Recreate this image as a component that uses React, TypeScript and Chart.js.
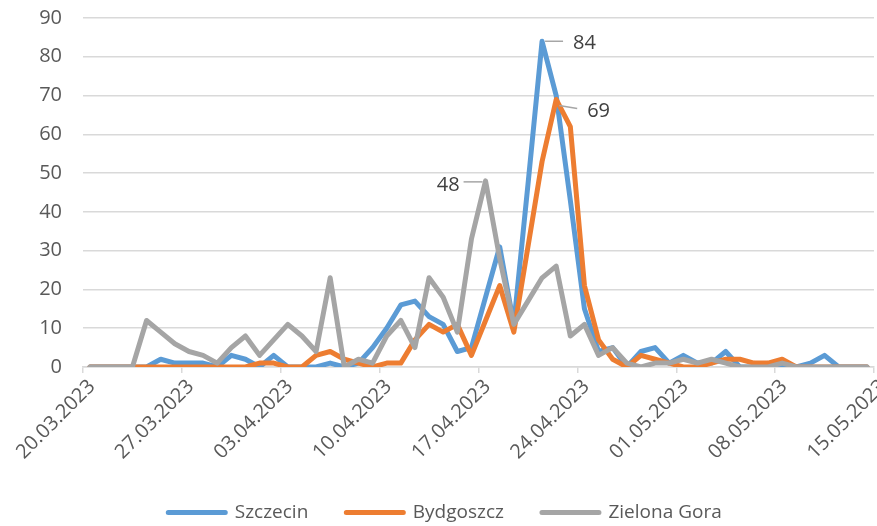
import React, { useEffect, useRef } from "react";
import { Chart, registerables } from "chart.js";

Chart.register(...registerables);

// Tick labels every 7 days (axis runs 20.03.2023 – 15.05.2023, one slot per day)
const tickLabels = [
  "20.03.2023",
  "27.03.2023",
  "03.04.2023",
  "10.04.2023",
  "17.04.2023",
  "24.04.2023",
  "01.05.2023",
  "08.05.2023",
  "15.05.2023",
];
const daysPerTick = 7;

const seriesNames = ["Szczecin", "Bydgoszcz", "Zielona Gora"];

// Daily values, 20.03.2023 .. 14.05.2023
const szczecin = [
  0, 0, 0, 0, 0, 2, 1, 1, 1, 0, 3, 2, 0, 3, 0, 0, 0, 1, 0, 1,
  5, 10, 16, 17, 13, 11, 4, 5, 18, 31, 11, 47, 84, 70, 43, 15, 4, 5, 0, 4,
  5, 1, 3, 1, 1, 4, 0, 0, 0, 0, 0, 1, 3, 0, 0, 0,
];
const bydgoszcz = [
  0, 0, 0, 0, 0, 0, 0, 0, 0, 0, 0, 0, 1, 1, 0, 0, 3, 4, 2, 1,
  0, 1, 1, 7, 11, 9, 11, 3, 12, 21, 9, 31, 53, 69, 62, 21, 7, 2, 0, 3,
  2, 1, 0, 0, 1, 2, 2, 1, 1, 2, 0, 0, 0, 0, 0, 0,
];
const zielonaGora = [
  0, 0, 0, 0, 12, 9, 6, 4, 3, 1, 5, 8, 3, 7, 11, 8, 4, 23, 0, 2,
  1, 8, 12, 5, 23, 18, 9, 33, 48, 28, 11, 17, 23, 26, 8, 11, 3, 5, 1, 0,
  1, 1, 2, 1, 2, 1, 0, 0, 0, 1, 0, 0, 0, 0, 0, 0,
];

const seriesValues = [szczecin, bydgoszcz, zielonaGora];
const colors = ["#5B9BD5", "#ED7D31", "#A5A5A5"];
// drawing order: later series on top (like Excel)
const drawOrder = [2, 1, 0];

// callout placement for each series' peak label (style only)
const callouts = [
  { dataset: 0, lx0: 3, ly0: 0, lx1: 21, ly1: 0, tx: 31, ty: 2, align: "left" },
  { dataset: 1, lx0: 3, ly0: 6, lx1: 21, ly1: 9, tx: 31, ty: 12, align: "left" },
  { dataset: 2, lx0: -3, ly0: 1, lx1: -22, ly1: 1, tx: -26, ty: 4, align: "right" },
];

const FONT = "'Open Sans', 'Noto Sans', sans-serif";
const AXIS_COLOR = "#595959";
const GRID_COLOR = "#D9D9D9";

const calloutPlugin = {
  id: "peakCallouts",
  afterDatasetsDraw(chart: any) {
    const ctx = chart.ctx;
    callouts.forEach((c) => {
      const values = seriesValues[c.dataset];
      const max = Math.max(...values);
      const idx = values.indexOf(max);
      const meta = chart.getDatasetMeta(c.dataset);
      const pt = meta.data[idx];
      if (!pt) return;
      const x = pt.x;
      const y = pt.y;
      ctx.save();
      ctx.strokeStyle = "#A6A6A6";
      ctx.lineWidth = 1.5;
      ctx.beginPath();
      ctx.moveTo(x + c.lx0, y + c.ly0);
      ctx.lineTo(x + c.lx1, y + c.ly1);
      ctx.stroke();
      ctx.fillStyle = "#404040";
      ctx.font = `20px ${FONT}`;
      ctx.textAlign = c.align as CanvasTextAlign;
      ctx.textBaseline = "middle";
      ctx.fillText(String(max), x + c.tx, y + c.ty);
      ctx.restore();
    });
  },
};

export default function App() {
  const canvasRef = useRef<HTMLCanvasElement | null>(null);

  useEffect(() => {
    const canvas = canvasRef.current;
    if (!canvas) return;
    Chart.defaults.font.family = FONT;

    const datasets = seriesValues.map((vals, s) => ({
      label: seriesNames[s],
      data: vals.map((v, i) => ({ x: i + 0.5, y: v })),
      borderColor: colors[s],
      backgroundColor: colors[s],
      borderWidth: 5,
      borderJoinStyle: "round" as const,
      borderCapStyle: "round" as const,
      pointRadius: 0,
      pointHoverRadius: 0,
      tension: 0,
      fill: false,
      order: drawOrder[s],
    }));

    const totalDays = (tickLabels.length - 1) * daysPerTick;

    const chart = new Chart(canvas, {
      type: "line",
      data: { datasets },
      options: {
        responsive: false,
        animation: false,
        layout: { padding: { left: 16, right: 3, top: 18, bottom: -6 } },
        plugins: {
          tooltip: { enabled: false },
          legend: {
            position: "bottom",
            labels: {
              boxWidth: 57,
              boxHeight: 0,
              padding: 38,
              color: AXIS_COLOR,
              font: { size: 19, family: FONT },
              sort: (a: any, b: any) => a.datasetIndex - b.datasetIndex,
            },
          },
        },
        scales: {
          x: {
            type: "linear",
            min: 0,
            max: totalDays,
            afterBuildTicks: (scale: any) => {
              scale.ticks = tickLabels.map((_, i) => ({ value: i * daysPerTick }));
            },
            afterFit: (scale: any) => {
              scale.height = 98;
              scale.paddingLeft = 0;
              scale.paddingRight = 0;
            },
            ticks: {
              autoSkip: false,
              maxRotation: 45,
              minRotation: 45,
              padding: 2,
              labelOffset: 9,
              color: AXIS_COLOR,
              font: { size: 20, family: FONT },
              callback: (v: any) => tickLabels[Math.round(Number(v) / daysPerTick)] ?? "",
            },
            grid: {
              drawOnChartArea: false,
              drawTicks: true,
              tickLength: 6,
              color: GRID_COLOR,
              lineWidth: 1.5,
            },
            border: { display: true, color: GRID_COLOR, width: 1.5 },
          },
          y: {
            min: 0,
            max: 90,
            afterFit: (scale: any) => {
              scale.width = 67;
              scale.paddingTop = 0;
              scale.paddingBottom = 0;
            },
            ticks: {
              stepSize: 10,
              padding: 21,
              color: AXIS_COLOR,
              font: { size: 20, family: FONT },
            },
            grid: { color: GRID_COLOR, lineWidth: 1.5, drawTicks: false },
            border: { display: false },
          },
        },
      },
      plugins: [calloutPlugin],
    } as any);

    return () => chart.destroy();
  }, []);

  return (
    <div
      style={{
        position: "fixed",
        left: 0,
        top: 0,
        width: 877,
        height: 526,
        background: "#ffffff",
      }}
    >
      <canvas ref={canvasRef} width={877} height={526} style={{ display: "block" }} />
    </div>
  );
}
